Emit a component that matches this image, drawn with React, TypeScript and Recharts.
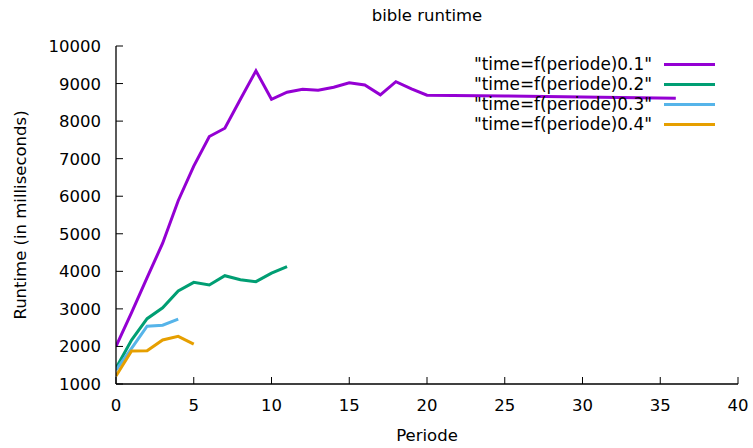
import React from 'react';
import { LineChart, Line, XAxis, YAxis, Label } from 'recharts';

const FONT = '"DejaVu Sans", Verdana, sans-serif';
const FS = 16.5;

// Periode -> runtime (ms)
const p1 = [0, 1, 2, 3, 4, 5, 6, 7, 8, 9, 10, 11, 12, 13, 14, 15, 16, 17, 18, 19, 20, 25, 30, 36];
const t1 = [2000, 2900, 3830, 4750, 5880, 6800, 7590, 7810, 8580, 9340, 8580, 8770, 8850, 8820, 8900, 9020, 8960, 8700, 9050, 8860, 8690, 8670, 8645, 8610];

const p2 = [0, 1, 2, 3, 4, 5, 6, 7, 8, 9, 10, 11];
const t2 = [1420, 2170, 2740, 3030, 3475, 3707, 3635, 3883, 3777, 3725, 3950, 4123];

const p3 = [0, 1, 2, 3, 4];
const t3 = [1370, 1950, 2540, 2565, 2730];

const p4 = [0, 1, 2, 3, 4, 5];
const t4 = [1213, 1880, 1885, 2172, 2270, 2060];

const xTicks = [0, 5, 10, 15, 20, 25, 30, 35, 40];
const yTicks = [1000, 2000, 3000, 4000, 5000, 6000, 7000, 8000, 9000, 10000];

const toRows = (xs: number[], ys: number[]) => xs.map((p, i) => ({ p, t: ys[i] }));

const series = [
  { name: '"time=f(periode)0.1"', color: '#9400d3', data: toRows(p1, t1) },
  { name: '"time=f(periode)0.2"', color: '#009e73', data: toRows(p2, t2) },
  { name: '"time=f(periode)0.3"', color: '#56b4e9', data: toRows(p3, t3) },
  { name: '"time=f(periode)0.4"', color: '#e69f00', data: toRows(p4, t4) },
];

const TICK = 7;

const BottomTick = (props: any) => {
  const { x, y, payload } = props;
  return (
    <g>
      <line x1={x} y1={y} x2={x} y2={y - TICK} stroke="#000" />
      <text x={x} y={y + 27} textAnchor="middle" fontSize={FS} fontFamily={FONT} fill="#000">
        {payload.value}
      </text>
    </g>
  );
};

const TopTick = (props: any) => {
  const { x, y } = props;
  return <line x1={x} y1={y} x2={x} y2={y + TICK} stroke="#000" />;
};

const LeftTick = (props: any) => {
  const { x, y, payload } = props;
  return (
    <g>
      <line x1={x} y1={y} x2={x + TICK} y2={y} stroke="#000" />
      <text x={x - 15} y={y + 6} textAnchor="end" fontSize={FS} fontFamily={FONT} fill="#000">
        {payload.value}
      </text>
    </g>
  );
};

const RightTick = (props: any) => {
  const { x, y } = props;
  return <line x1={x} y1={y} x2={x - TICK} y2={y} stroke="#000" />;
};

const LegendBox = () => (
  <div
    style={{
      position: 'absolute', top: 54, left: 440,
      fontFamily: FONT, fontSize: 16.9, color: '#000',
    }}
  >
    {series.map((s) => (
      <div key={s.name} style={{ display: 'flex', alignItems: 'center', height: 20, lineHeight: '20px' }}>
        <span style={{ width: 212, textAlign: 'right', whiteSpace: 'nowrap' }}>{s.name}</span>
        <span style={{ display: 'inline-block', width: 51, height: 3, background: s.color, marginLeft: 12 }} />
      </div>
    ))}
  </div>
);

export default function App() {
  return (
    <div style={{ position: 'absolute', left: 0, top: 0, width: 753, height: 448, background: '#fff' }}>
      <div
        style={{
          position: 'absolute', top: 6, left: 116, width: 622, textAlign: 'center',
          fontFamily: FONT, fontSize: FS, color: '#000',
        }}
      >
        bible runtime
      </div>
      <LineChart width={753} height={448} margin={{ top: 46, right: 15, bottom: 0, left: 0 }}>
        <XAxis
          dataKey="p"
          type="number"
          domain={[0, 40]}
          ticks={xTicks}
          allowDataOverflow
          height={64}
          tickSize={0}
          tickMargin={0}
          tickLine={false}
          axisLine={{ stroke: '#000', strokeWidth: 1.3 }}
          tick={<BottomTick />}
          interval={0}
        >
          <Label value="Periode" position="insideBottom" offset={7} fontSize={FS} fontFamily={FONT} fill="#000" />
        </XAxis>
        <XAxis
          xAxisId="top"
          orientation="top"
          dataKey="p"
          type="number"
          domain={[0, 40]}
          ticks={xTicks}
          height={0}
          tickSize={0}
          tickMargin={0}
          tickLine={false}
          axisLine={{ stroke: '#000', strokeWidth: 1.3 }}
          tick={<TopTick />}
          interval={0}
        />
        <YAxis
          type="number"
          domain={[1000, 10000]}
          ticks={yTicks}
          allowDataOverflow
          width={116}
          tickSize={0}
          tickMargin={0}
          tickLine={false}
          axisLine={{ stroke: '#000', strokeWidth: 1.3 }}
          tick={<LeftTick />}
          interval={0}
        >
          <Label
            value="Runtime (in milliseconds)"
            angle={-90}
            position="insideLeft"
            offset={20}
            style={{ textAnchor: 'middle' }}
            fontSize={FS}
            fontFamily={FONT}
            fill="#000"
          />
        </YAxis>
        <YAxis
          yAxisId="right"
          orientation="right"
          type="number"
          domain={[1000, 10000]}
          ticks={yTicks}
          width={0}
          tickSize={0}
          tickMargin={0}
          tickLine={false}
          axisLine={{ stroke: '#000', strokeWidth: 1.3 }}
          tick={<RightTick />}
          interval={0}
        />
        {series.map((s) => (
          <Line
            key={s.name}
            data={s.data}
            dataKey="t"
            name={s.name}
            type="linear"
            stroke={s.color}
            strokeWidth={3}
            dot={false}
            activeDot={false}
            isAnimationActive={false}
          />
        ))}
      </LineChart>
      <LegendBox />
    </div>
  );
}
